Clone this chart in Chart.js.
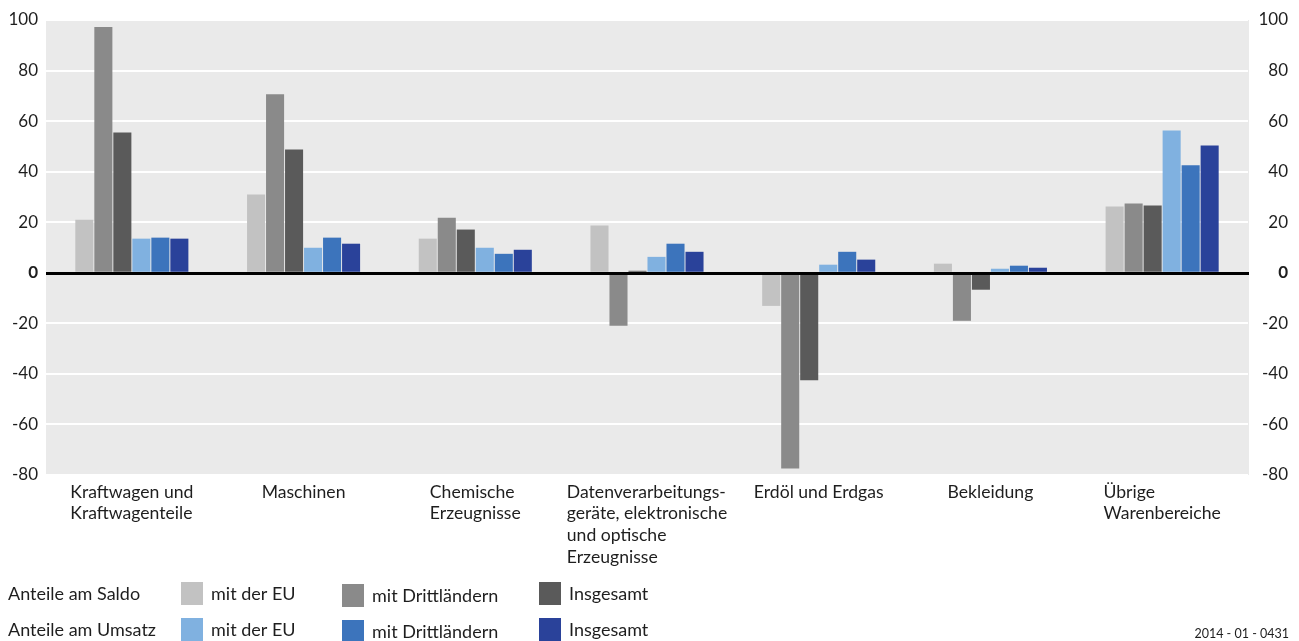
<!DOCTYPE html>
<html>
<head>
<meta charset="utf-8">
<script src="https://cdn.jsdelivr.net/npm/chart.js@4/dist/chart.umd.min.js"></script>
<style>
  html, body { margin: 0; padding: 0; background: #ffffff; }
  #wrap { position: relative; width: 1299px; height: 641px; }
</style>
</head>
<body>
<div id="wrap"><canvas id="c" width="1299" height="641"></canvas></div>
<script>
// Product groups (multi-line category labels)
const categories = [
  ['Kraftwagen und', 'Kraftwagenteile'],
  ['Maschinen'],
  ['Chemische', 'Erzeugnisse'],
  ['Datenverarbeitungs-', 'geräte, elektronische', 'und optische', 'Erzeugnisse'],
  ['Erdöl und Erdgas'],
  ['Bekleidung'],
  ['Übrige', 'Warenbereiche']
];

const groupNames = ['Anteile am Saldo', 'Anteile am Umsatz'];
const seriesNames = ['mit der EU', 'mit Drittländern', 'Insgesamt'];

// Shares of the trade balance (%)
const saldoEU     = [21.0, 31.0, 13.5, 18.7, -13.1,   3.6, 26.2];
const saldoDritt  = [97.2, 70.6, 21.8, -21.0, -77.4, -19.0, 27.4];
const saldoGesamt = [55.5, 48.8, 17.1,   0.8, -42.5,  -6.7, 26.6];

// Shares of turnover (%)
const umsatzEU     = [13.5,  9.9, 9.9,  6.3, 3.2, 1.6, 56.3];
const umsatzDritt  = [13.9, 13.9, 7.5, 11.5, 8.3, 2.8, 42.5];
const umsatzGesamt = [13.5, 11.5, 9.1,  8.3, 5.2, 2.0, 50.4];

const yMin = -80, yMax = 100, yStep = 20;
const footnote = '2014 - 01 - 0431';

const saldoColors  = ['#c2c2c2', '#8a8a8a', '#5a5a5a'];
const umsatzColors = ['#80b1e0', '#3c74bc', '#2a429a'];

const FONT = 'Lato, "Open Sans", sans-serif';
const TEXT = '#1e1e1e';

const mk = (label, data, color) => ({
  label, data, backgroundColor: color, borderWidth: 0,
  barPercentage: 0.95, categoryPercentage: 0.664
});

const datasets = [
  mk(seriesNames[0], saldoEU, saldoColors[0]),
  mk(seriesNames[1], saldoDritt, saldoColors[1]),
  mk(seriesNames[2], saldoGesamt, saldoColors[2]),
  mk(seriesNames[0], umsatzEU, umsatzColors[0]),
  mk(seriesNames[1], umsatzDritt, umsatzColors[1]),
  mk(seriesNames[2], umsatzGesamt, umsatzColors[2])
];

// Grey plot background
const plotBackground = {
  id: 'plotBackground',
  beforeDraw(chart) {
    const { ctx, chartArea: a } = chart;
    ctx.save();
    ctx.fillStyle = '#eaeaea';
    ctx.fillRect(a.left, a.top, a.right - a.left + 1, a.bottom - a.top);
    ctx.restore();
  }
};

// Black zero line on top of the bars
const zeroLine = {
  id: 'zeroLine',
  afterDatasetsDraw(chart) {
    const { ctx, chartArea: a } = chart;
    const y = Math.round(chart.scales.y.getPixelForValue(0)) + 0.5;
    ctx.save();
    ctx.strokeStyle = '#000000';
    ctx.lineWidth = 3;
    ctx.beginPath();
    ctx.moveTo(a.left, y);
    ctx.lineTo(a.right + 1, y);
    ctx.stroke();
    ctx.restore();
  }
};

// Category labels: block centred under each group, lines left-aligned
const categoryLabels = {
  id: 'categoryLabels',
  afterDraw(chart) {
    const { ctx, chartArea: a } = chart;
    const xs = chart.scales.x;
    ctx.save();
    ctx.font = '17.6px ' + FONT;
    ctx.fillStyle = TEXT;
    ctx.textAlign = 'left';
    ctx.textBaseline = 'middle';
    categories.forEach((lines, i) => {
      const cx = xs.getPixelForValue(i);
      const w = Math.max(...lines.map(l => ctx.measureText(l).width));
      const x0 = cx - w / 2;
      lines.forEach((l, j) => ctx.fillText(l, x0, a.bottom + 17 + j * 21.7));
    });
    ctx.restore();
  }
};

// Two-row legend (balance / turnover) and chart number
const legendRows = {
  id: 'legendRows',
  afterDraw(chart) {
    const { ctx } = chart;
    const rowY = [594, 630];
    const swX = [181, 342, 539];
    const swDy = [0, 2, 0];
    ctx.save();
    ctx.font = '18px ' + FONT;
    ctx.textBaseline = 'middle';
    ctx.textAlign = 'left';
    groupNames.forEach((g, r) => {
      ctx.fillStyle = TEXT;
      ctx.fillText(g, 8, rowY[r]);
      for (let k = 0; k < 3; k++) {
        const ds = chart.data.datasets[r * 3 + k];
        ctx.fillStyle = ds.backgroundColor;
        ctx.fillRect(swX[k], rowY[r] - 12 + swDy[k], 22, 23);
        ctx.fillStyle = TEXT;
        ctx.fillText(ds.label, swX[k] + 30, rowY[r] + swDy[k]);
      }
    });
    ctx.font = '12.5px ' + FONT;
    ctx.textAlign = 'right';
    ctx.fillText(footnote, 1289, 634);
    ctx.restore();
  }
};

const tickFont = (c) => ({
  family: FONT, size: 17,
  weight: c.tick && c.tick.value === 0 ? 'bold' : 'normal'
});

new Chart(document.getElementById('c'), {
  type: 'bar',
  data: { labels: categories, datasets },
  plugins: [plotBackground, zeroLine, categoryLabels, legendRows],
  options: {
    responsive: false,
    animation: false,
    devicePixelRatio: 1,
    layout: { padding: { top: 20, right: 11, left: 0, bottom: 0 } },
    plugins: { legend: { display: false }, tooltip: { enabled: false } },
    scales: {
      x: {
        type: 'category',
        offset: true,
        grid: { display: false },
        border: { display: false },
        ticks: { display: false },
        afterFit(s) { s.height = 166; }
      },
      y: {
        position: 'left',
        min: yMin, max: yMax,
        ticks: { stepSize: yStep, padding: 8, color: TEXT, font: tickFont },
        grid: { color: '#ffffff', lineWidth: 2, drawTicks: false },
        border: { display: false },
        afterFit(s) { s.width = 46; }
      },
      y2: {
        position: 'right',
        min: yMin, max: yMax,
        ticks: { stepSize: yStep, crossAlign: 'far', color: TEXT, font: tickFont },
        grid: { display: false, drawTicks: false },
        border: { display: false },
        afterFit(s) { s.width = 40; }
      }
    }
  }
});
</script>
</body>
</html>
